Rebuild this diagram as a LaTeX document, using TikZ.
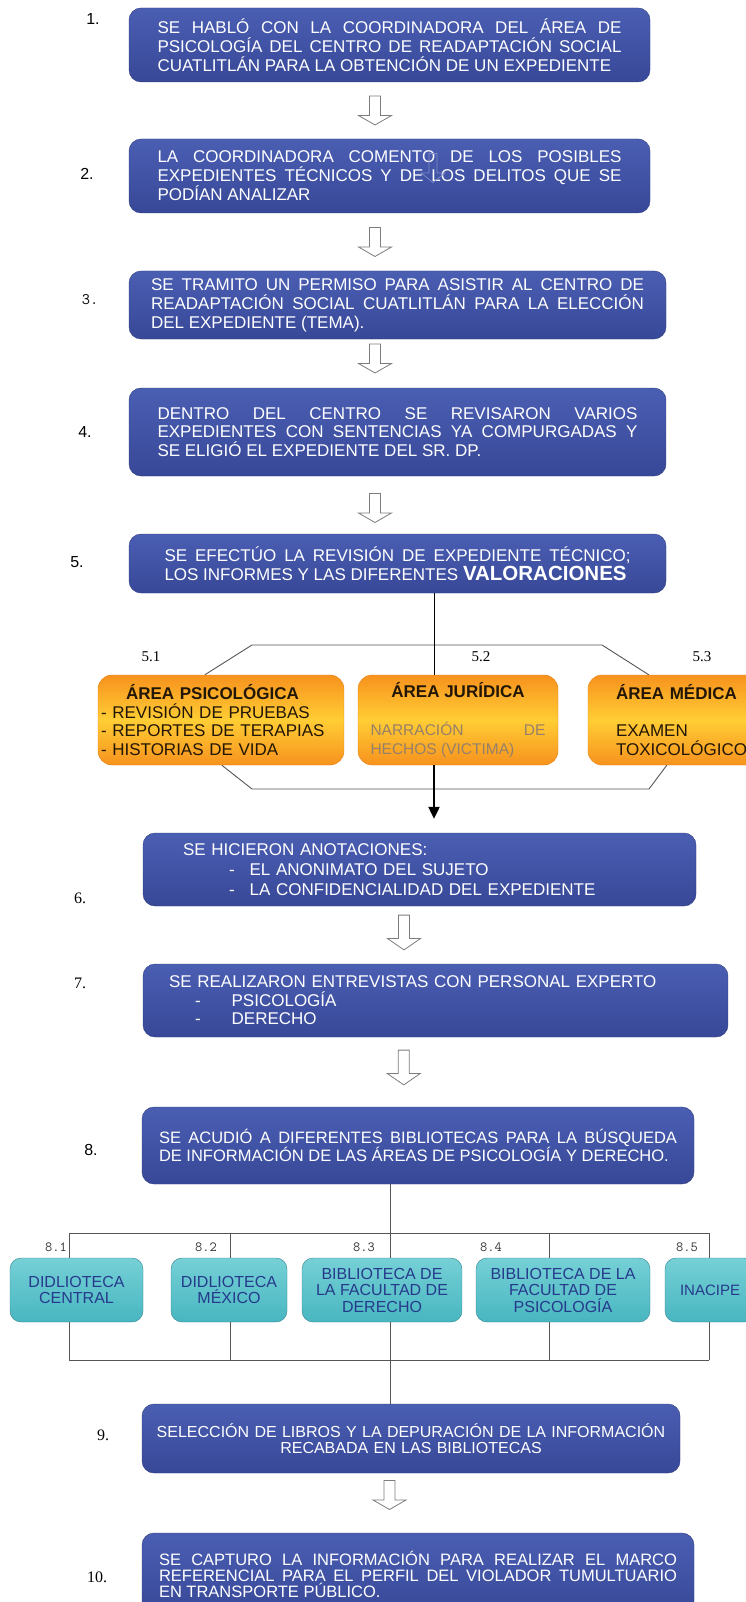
\documentclass[tikz,border=0pt]{standalone}
\usepackage{fontspec}
\setmainfont{Liberation Sans}
\newfontfamily\numserif{Liberation Serif}
\usetikzlibrary{arrows.meta,calc}

\definecolor{steptop}{RGB}{74,94,178}
\definecolor{stepbot}{RGB}{56,72,152}
\definecolor{stepedge}{RGB}{46,60,128}
\definecolor{areaorange}{RGB}{247,146,30}
\definecolor{areayellow}{RGB}{255,205,52}
\definecolor{areaedge}{RGB}{232,128,24}
\definecolor{areatext}{RGB}{34,22,6}
\definecolor{narrgrey}{RGB}{150,128,105}
\definecolor{libtop}{RGB}{118,208,214}
\definecolor{libbot}{RGB}{72,182,192}
\definecolor{libedge}{RGB}{52,132,142}
\definecolor{libtext}{RGB}{38,58,140}
\definecolor{linegrey}{RGB}{85,85,85}
\definecolor{arrowgrey}{RGB}{125,125,125}
\definecolor{glitchblue}{RGB}{130,140,200}

\tolerance=10000
\hbadness=10000

\tikzset{
  stepbox/.style={draw=stepedge, top color=steptop, bottom color=stepbot,
    rounded corners=12pt, text=white, inner ysep=0pt,
    font=\fontsize{17}{19}\selectfont},
  areabox/.style={draw=areaedge, top color=areaorange, bottom color=areaorange,
    middle color=areayellow, rounded corners=14pt, text=areatext,
    minimum height=90pt, inner ysep=0pt, font=\fontsize{17}{18.7}\selectfont},
  libbox/.style={draw=libedge, top color=libtop, bottom color=libbot,
    rounded corners=11pt, text=libtext, align=center, minimum height=64pt,
    inner sep=2pt, font=\fontsize{16}{16.5}\selectfont},
  steplabel/.style={font=\numserif\fontsize{16}{16}\selectfont},
  steplabelsans/.style={font=\fontsize{16}{16}\selectfont},
  steplabeltt/.style={font=\ttfamily\fontsize{16}{16}\selectfont},
  arealabel/.style={font=\numserif\fontsize{15}{15}\selectfont},
  liblabel/.style={font=\ttfamily\fontsize{14}{14}\selectfont, text=black!80},
  treeline/.style={draw=linegrey, line width=0.9pt},
  arrowbody/.style={draw=arrowgrey, line width=0.8pt, fill=white},
  downarrow/.pic={
    \draw[arrowbody]
      (-5.5,-14.5) -- (5.5,-14.5) -- (5.5,5) -- (16.5,5) -- (0,14.5)
      -- (-16.5,5) -- (-5.5,5) -- cycle;
  }
}

\begin{document}
\begin{tikzpicture}[x=1pt,y=-1pt]
\useasboundingbox (0,0) rectangle (746,1602);
\clip (0,0) rectangle (746,1602);

% pasos 1 a 5
\node[stepbox, align=justify, text width=464pt, inner xsep=28.5pt, minimum height=74pt] (s1) at (389.5,45)
  {SE HABLÓ CON LA COORDINADORA DEL ÁREA DE\linebreak PSICOLOGÍA DEL CENTRO DE READAPTACIÓN SOCIAL\linebreak CUATLITLÁN PARA LA OBTENCIÓN DE UN EXPEDIENTE};
\node[stepbox, align=justify, text width=464pt, inner xsep=28.5pt, minimum height=74pt] (s2) at (389.5,176)
  {LA COORDINADORA COMENTO DE LOS POSIBLES\linebreak EXPEDIENTES TÉCNICOS Y DE LOS DELITOS QUE SE\linebreak PODÍAN ANALIZAR};
\node[stepbox, align=justify, text width=493pt, inner xsep=22pt, minimum height=68pt] (s3) at (397.5,305)
  {SE TRAMITO UN PERMISO PARA ASISTIR AL CENTRO DE\linebreak READAPTACIÓN SOCIAL CUATLITLÁN PARA LA ELECCIÓN\linebreak DEL EXPEDIENTE (TEMA).};
\node[stepbox, align=justify, text width=480pt, inner xsep=28.5pt, minimum height=88pt,
  font=\fontsize{17}{18.5}\selectfont] (s4) at (397.5,432)
  {DENTRO DEL CENTRO SE REVISARON VARIOS\linebreak EXPEDIENTES CON SENTENCIAS YA COMPURGADAS Y\linebreak SE ELIGIÓ EL EXPEDIENTE DEL SR. DP.};
\node[stepbox, align=justify, text width=466pt, inner xsep=35.5pt, minimum height=59pt] (s5) at (397.5,563.5)
  {SE EFECTÚO LA REVISIÓN DE EXPEDIENTE TÉCNICO;\linebreak LOS INFORMES Y LAS DIFERENTES {\bfseries\fontsize{20.5}{19}\selectfont VALORACIONES}};

% flecha sobrante dentro del paso 2
\pic[xscale=0.72, arrowbody/.style={draw=glitchblue, line width=0.7pt, fill=none}] (glitch) at (433,168) {downarrow};

% areas 5.1 a 5.3
\node[areabox, align=left, text width=240pt, inner xsep=3pt, minimum width=246pt] (a51) at (221,720)
  {\hspace*{25pt}\textbf{ÁREA PSICOLÓGICA}\\- REVISIÓN DE PRUEBAS\\- REPORTES DE TERAPIAS\\- HISTORIAS DE VIDA};
\node[areabox, align=justify, text width=175pt, inner xsep=12.5pt, minimum width=200pt] (a52) at (458,720)
  {\makebox[\linewidth]{\textbf{ÁREA JURÍDICA}}\\[19pt]{\color{narrgrey}\fontsize{15.5}{18.7}\selectfont NARRACIÓN DE\linebreak HECHOS (VICTIMA)}};
\node[areabox, align=left, text width=190pt, inner xsep=28pt, minimum width=246pt] (a53) at (711,720)
  {\textbf{ÁREA MÉDICA}\\[19pt]EXAMEN\\TOXICOLÓGICO};

\node[arealabel] (n51) at (151,657) {5.1};
\node[arealabel] (n52) at (481,657) {5.2};
\node[arealabel] (n53) at (702,657) {5.3};

% marco hexagonal
\coordinate (h1) at (252,645);
\coordinate (h2) at (602,645);
\coordinate (h3) at (252,789);
\coordinate (h4) at (649,789);
\draw[treeline] ($(a51.north west)+(107,0)$) -- (h1) -- (h2) -- ($(a53.north west)+(61,0)$);
\draw[treeline] ($(a51.south west)+(124,0)$) -- (h3) -- (h4) -- ($(a53.south west)+(79,0)$);

% pasos 6 a 10
\node[stepbox, align=left, text width=473pt, inner xsep=40pt, minimum height=73pt,
  font=\fontsize{17}{20}\selectfont] (s6) at (419.5,869.5)
  {SE HICIERON ANOTACIONES:\\\hspace*{46pt}-\hspace*{15pt}EL ANONIMATO DEL SUJETO\\\hspace*{46pt}-\hspace*{15pt}LA CONFIDENCIALIDAD DEL EXPEDIENTE};
\node[stepbox, align=left, text width=533pt, inner xsep=26pt, minimum height=73pt,
  font=\fontsize{17}{18.5}\selectfont] (s7) at (435.5,1000.5)
  {SE REALIZARON ENTREVISTAS CON PERSONAL EXPERTO\\\hspace*{26pt}-\hspace*{31pt}PSICOLOGÍA\\\hspace*{26pt}-\hspace*{31pt}DERECHO};
\node[stepbox, align=justify, text width=518pt, inner xsep=17pt, minimum height=77pt,
  font=\fontsize{16.5}{17}\selectfont] (s8) at (418,1145.5)
  {SE ACUDIÓ A DIFERENTES BIBLIOTECAS PARA LA BÚSQUEDA\linebreak DE INFORMACIÓN DE LAS ÁREAS DE PSICOLOGÍA Y DERECHO.};
\node[stepbox, align=center, text width=510pt, inner xsep=14pt, minimum height=69pt,
  font=\fontsize{16}{16}\selectfont] (s9) at (411,1438.5)
  {SELECCIÓN DE LIBROS Y LA DEPURACIÓN DE LA INFORMACIÓN\\RECABADA EN LAS BIBLIOTECAS};
\node[stepbox, align=justify, text width=518pt, inner xsep=17pt, minimum height=82pt,
  font=\fontsize{16.5}{16}\selectfont] (s10) at (418,1574)
  {SE CAPTURO LA INFORMACIÓN PARA REALIZAR EL MARCO\linebreak REFERENCIAL PARA EL PERFIL DEL VIOLADOR TUMULTUARIO\linebreak EN TRANSPORTE PÚBLICO.};

% del paso 5 al area juridica y al paso 6
\coordinate (j5) at (434,0);
\draw[black, line width=0.9pt] (s5.south -| j5) -- (j5 |- a52.north);
\draw[black, line width=2.2pt, -{Triangle[width=11pt,length=12pt]}]
  (j5 |- a52.south) -- ($(j5 |- s6.north)+(0,-14)$);

% numeros de los pasos
\node[steplabelsans] (l1) at (93,19) {1.};
\node[steplabelsans] (l2) at (87,174) {2.};
\node[steplabeltt] (l3) at (90,300) {3.};
\node[steplabelsans] (l4) at (85,432) {4.};
\node[steplabelsans] (l5) at (77,562) {5.};
\node[steplabel] (l6) at (80,898) {6.};
\node[steplabel] (l7) at (80,983) {7.};
\node[steplabelsans] (l8) at (91,1150) {8.};
\node[steplabel] (l9) at (103,1435) {9.};
\node[steplabel] (l10) at (97,1577) {10.};

% flechas huecas entre pasos
\pic (ar1) at ($(s1.south)!.5!(s2.north)+(-14.5,0)$) {downarrow};
\pic (ar2) at ($(s2.south)!.5!(s3.north)+(-18.5,0)$) {downarrow};
\pic (ar3) at ($(s3.south)!.5!(s4.north)+(-22.5,-5)$) {downarrow};
\pic (ar4) at ($(s4.south)!.5!(s5.north)+(-22.5,3)$) {downarrow};
\pic[yscale=1.2] (ar6) at ($(s6.south)!.5!(s7.north)+(-23.5,-2.5)$) {downarrow};
\pic[yscale=1.2] (ar7) at ($(s7.south)!.5!(s8.north)+(-23,-4.5)$) {downarrow};
\pic (ar9) at ($(s9.south)!.5!(s10.north)+(-25,-8)$) {downarrow};

% bibliotecas 8.1 a 8.5
\node[libbox, minimum width=133pt] (c1) at (76.5,1290) {DIDLIOTECA\\CENTRAL};
\node[libbox, minimum width=116pt] (c2) at (229,1290) {DIDLIOTECA\\MÉXICO};
\node[libbox, minimum width=160pt] (c3) at (382,1290) {BIBLIOTECA DE\\LA FACULTAD DE\\DERECHO};
\node[libbox, minimum width=174pt] (c4) at (563,1290) {BIBLIOTECA DE LA\\FACULTAD DE\\PSICOLOGÍA};
\node[libbox, minimum width=90pt, font=\fontsize{15}{16}\selectfont] (c5) at (710,1290) {INACIPE};

\node[liblabel] (n81) at (56,1247) {8.1};
\node[liblabel] (n82) at (206,1247) {8.2};
\node[liblabel] (n83) at (364,1247) {8.3};
\node[liblabel] (n84) at (491,1247) {8.4};
\node[liblabel] (n85) at (687,1247) {8.5};

\coordinate (b1) at (69,1233);
\coordinate (b2) at (230,1233);
\coordinate (b3) at (390,1233);
\coordinate (b4) at (549,1233);
\coordinate (b5) at (709,1233);
\coordinate (dbar) at (0,1360);
\draw[treeline] (s8.south -| b3) -- (b3);
\draw[treeline] (b1) -- (b5);
\foreach \i in {1,...,5} {
  \draw[treeline] (b\i) -- (b\i |- c\i.north);
  \draw[treeline] (b\i |- c\i.south) -- (b\i |- dbar);
}
\draw[treeline] (b1 |- dbar) -- (b5 |- dbar);
\draw[treeline] (b3 |- dbar) -- (b3 |- s9.north);
\end{tikzpicture}
\end{document}
